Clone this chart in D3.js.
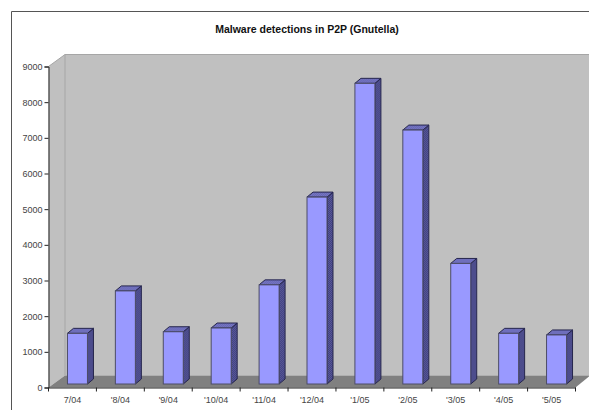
<!DOCTYPE html>
<html>
<head>
<meta charset="utf-8">
<script src="https://cdn.jsdelivr.net/npm/d3@7"></script>
<style>
  html, body { margin: 0; padding: 0; background: #fff; overflow: hidden; }
  svg { display: block; }
  text { font-family: "Liberation Sans", Arial, sans-serif; }
</style>
</head>
<body>
<div id="chart"></div>
<script>
// values
var months = ["7/04", "'8/04", "'9/04", "'10/04", "'11/04", "'12/04", "'1/05", "'2/05", "'3/05", "'4/05", "'5/05"];
var detections = [1420, 2610, 1465, 1570, 2780, 5240, 8430, 7120, 3380, 1420, 1375];
var yTicks = [0, 1000, 2000, 3000, 4000, 5000, 6000, 7000, 8000, 9000];

var chartTitle = "Malware detections in P2P (Gnutella)";
var width = 589, height = 410;

// set the dimensions of the plot
const plot = {left: 48.5, right: 575.5, top: 66.5, bottom: 387.5};
const wallDx = 16.5, wallDy = -12;   // depth of the 3d box
const barDx = 5, barDy = -3.5;       // where the bars stand on the floor
const sideDx = 6, sideDy = -5;       // depth of one bar
const barWidth = 20;

const svg = d3.select("#chart")
  .append("svg")
  .attr("width", width)
  .attr("height", height);

// dithered fills for the bar sides and tops
function addDither(id, c1, c2) {
    const p = svg.append("defs").append("pattern")
        .attr("id", id)
        .attr("width", 2).attr("height", 2)
        .attr("patternUnits", "userSpaceOnUse");
    p.append("rect").attr("width", 2).attr("height", 2).attr("fill", c1);
    p.append("rect").attr("width", 1).attr("height", 1).attr("fill", c2);
    p.append("rect").attr("x", 1).attr("y", 1).attr("width", 1).attr("height", 1).attr("fill", c2);
}
addDither("sideFill", "#3d3d80", "#5c5c99");
addDither("topFill", "#6666b3", "#7777c4");

const x = d3.scaleBand().domain(months).range([plot.left, plot.right]).paddingInner(0).paddingOuter(0);
const y = d3.scaleLinear().domain([0, 9000]).range([plot.bottom, plot.top]);

// outer frame, only top and left are inside the picture
svg.append("path")
    .attr("d", `M11.5,${height}V11.5H${width}`)
    .attr("fill", "none")
    .attr("stroke", "#555");

// title
svg.append("text")
    .attr("x", 307)
    .attr("y", 33)
    .attr("text-anchor", "middle")
    .style("font-size", "10.5px")
    .style("font-weight", "bold")
    .attr("fill", "#111")
    .text(chartTitle);

// box: back wall, side wall, floor
const backLeft = plot.left + wallDx, backTop = plot.top + wallDy, backBottom = plot.bottom + wallDy;

svg.append("path")
    .attr("d", `M${backLeft},${backTop}H${width}V${backBottom}H${backLeft}Z`)
    .attr("fill", "#c0c0c0");
svg.append("path")
    .attr("d", `M${plot.left},${plot.top}L${backLeft},${backTop}V${backBottom}L${plot.left},${plot.bottom}Z`)
    .attr("fill", "#c0c0c0");
svg.append("path")
    .attr("d", `M${plot.left},${plot.bottom}L${backLeft},${backBottom}H${width}V${plot.bottom - 11}L${plot.right},${plot.bottom}Z`)
    .attr("fill", "#808080");

// edges of the box
svg.append("path")
    .attr("d", `M${plot.left},${plot.top}L${backLeft},${backTop}H${width}M${backLeft},${backTop}V${backBottom}`)
    .attr("fill", "none")
    .attr("stroke", "#a6a6a6");

// the bars
const bars = svg.selectAll(".bar")
    .data(detections)
    .enter()
    .append("g")
    .attr("class", "bar")
    .attr("transform", function (d, i) {
        const cx = x(months[i]) + x.bandwidth() / 2;
        return "translate(" + (cx - barWidth / 2 + barDx) + "," + (y(d) + barDy) + ")";
    });

// side
bars.append("path")
    .attr("d", function (d) {
        const h = y(0) - y(d);
        return `M${barWidth},0L${barWidth + sideDx},${sideDy}V${h + sideDy}L${barWidth},${h}Z`;
    })
    .attr("fill", "url(#sideFill)")
    .attr("stroke", "#26264d");

// top
bars.append("path")
    .attr("d", `M0,0L${sideDx},${sideDy}H${barWidth + sideDx}L${barWidth},0Z`)
    .attr("fill", "url(#topFill)")
    .attr("stroke", "#26264d");

// front
bars.append("rect")
    .attr("width", barWidth)
    .attr("height", function (d) { return y(0) - y(d); })
    .attr("fill", "#9999ff")
    .attr("stroke", "#4d4d66");

// Y axis
const yAxis = d3.axisLeft(y).tickValues(yTicks).tickSize(4).tickPadding(2).tickFormat(d3.format("d"));
const gy = svg.append("g")
    .attr("transform", `translate(${plot.left},0)`)
    .call(yAxis);

// X axis, ticks sit between the categories
const xAxis = d3.axisBottom(x).tickSize(0).tickPadding(9);
const gx = svg.append("g")
    .attr("transform", `translate(0,${plot.bottom})`)
    .call(xAxis);

gx.selectAll(".between")
    .data(d3.range(months.length + 1))
    .enter()
    .append("line")
    .attr("class", "between")
    .attr("x1", function (i) { return plot.left + i * x.bandwidth(); })
    .attr("x2", function (i) { return plot.left + i * x.bandwidth(); })
    .attr("y1", 0)
    .attr("y2", 4)
    .attr("stroke", "#222");

svg.selectAll(".domain").attr("stroke", "#222");
svg.selectAll(".tick line").attr("stroke", "#222");
svg.selectAll(".tick text")
    .attr("fill", "#444")
    .style("font-size", "9px")
    .style("font-family", "\"Liberation Sans\", Arial, sans-serif");
</script>
</body>
</html>
